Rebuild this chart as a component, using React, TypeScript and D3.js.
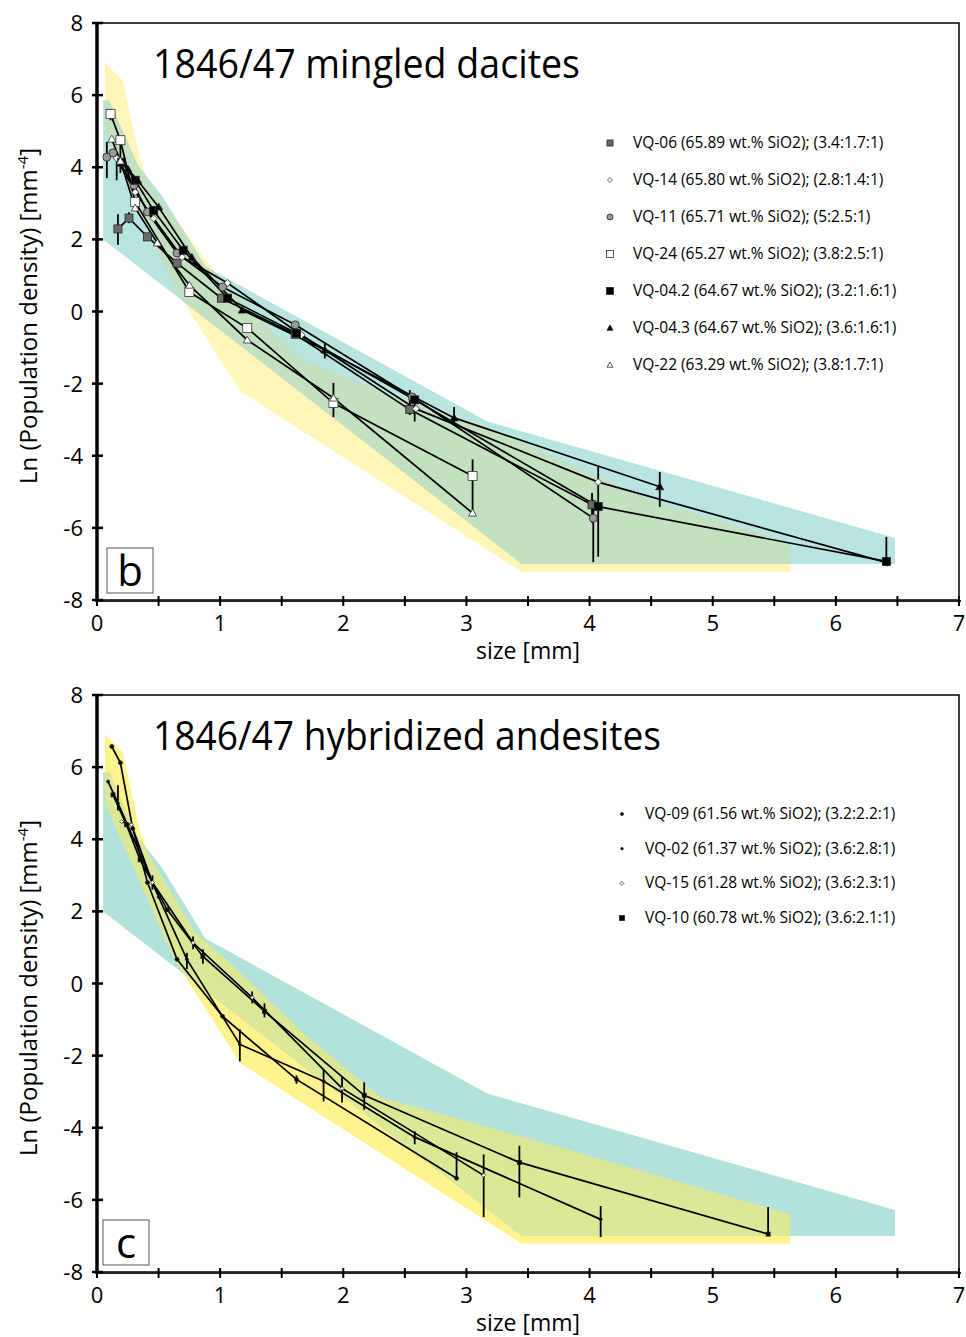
import React from 'react';
import * as d3 from 'd3';

// ---- data (size [mm], ln n, error bar top, error bar bottom) ----
// panel b: 1846/47 mingled dacites
const vq06 = [[0.17, 2.29, 2.7, 1.85], [0.26, 2.59, 2.75, 2.45], [0.41, 2.07], [0.65, 1.34], [1.01, 0.37], [1.61, -0.63], [2.54, -2.72, -2.18, -2.87], [4.02, -5.36, -5.03, -5.86]];
const vq14 = [[0.16, 4.25, 4.4, 3.64], [0.31, 3.31], [0.46, 2.58], [0.69, 1.51], [1.06, 0.79], [1.66, -0.65], [2.59, -2.7], [4.07, -4.73], [6.42, -6.97]];
const vq11 = [[0.08, 4.28, 4.7, 3.7], [0.13, 4.4], [0.3, 3.5], [0.41, 2.76], [0.65, 1.62], [1.02, 0.68], [1.61, -0.37], [2.56, -2.37], [4.03, -5.73, -5.22, -6.95]];
const vq24 = [[0.11, 5.48, 5.6, 5.3], [0.19, 4.75, 4.85, 3.84], [0.31, 3.04], [0.75, 0.54], [1.22, -0.46], [1.92, -2.54, -1.98, -2.93], [3.05, -4.56, -4.1, -5.56]];
const vq042 = [[0.2, 4.14], [0.31, 3.64], [0.46, 2.8], [0.7, 1.7], [1.06, 0.37], [1.62, -0.6], [2.58, -2.45, -2.3, -3.05], [4.07, -5.41, -4.31, -6.8], [6.41, -6.93, -6.25, -6.97]];
const vq043 = [[0.25, 3.95], [0.33, 3.64], [0.5, 2.9], [0.77, 1.5], [1.18, 0.04], [1.85, -1.07, -0.85, -1.3], [2.9, -2.95, -2.65, -3.15], [4.57, -4.86, -4.45, -5.42]];
const vq22 = [[0.12, 4.78], [0.19, 4.17], [0.31, 2.87], [0.49, 1.9], [0.75, 0.73], [1.22, -0.79], [1.92, -2.4], [3.05, -5.59]];

// panel c: 1846/47 hybridized andesites
const vq09 = [[0.12, 6.57], [0.19, 6.12], [0.29, 4.3], [0.41, 2.8], [0.65, 0.67], [1.02, -0.91], [1.62, -2.66, -2.55, -2.78], [2.92, -5.4, -4.68, -5.43]];
const vq02 = [[0.09, 5.6], [0.17, 5.0, 5.5, 4.8], [0.3, 4.0], [0.5, 2.4], [0.73, 0.67, 0.85, 0.4], [1.16, -1.69, -1.27, -2.16], [1.84, -2.71, -2.38, -3.27], [2.58, -4.26, -4.1, -4.46], [4.09, -6.54, -6.17, -7.03]];
const vq15 = [[0.2, 4.49], [0.28, 4.4], [0.45, 2.8, 3.0, 2.6], [0.78, 1.13, 1.3, 0.95], [1.26, -0.39, -0.22, -0.55], [1.99, -2.91, -2.58, -3.3], [3.14, -5.32, -4.74, -6.48]];
const vq10 = [[0.13, 5.23], [0.24, 4.4], [0.35, 3.43], [0.57, 2.05], [0.86, 0.75, 0.95, 0.55], [1.36, -0.77, -0.55, -0.94], [2.17, -3.1, -2.74, -3.5], [3.43, -4.96, -4.5, -5.93], [5.45, -6.95, -6.2, -7.0]];

// shaded fields
const dacField = [[0.05, 5.85], [0.1, 5.85], [0.33, 4.06], [0.53, 3.2], [0.88, 1.25], [3.17, -3.05], [6.48, -6.28], [6.48, -7.0], [3.45, -7.0], [0.05, 2.0]];
const andFieldB = [[0.065, 6.9], [0.21, 6.4], [0.35, 4.2], [0.43, 3.5], [1.0, 0.9], [1.65, -1.3], [2.48, -2.45], [3.17, -3.2], [4.49, -5.23], [5.63, -6.4], [5.63, -7.22], [3.45, -7.22], [1.16, -2.2], [0.63, 0.65], [0.065, 5.0]];
const andFieldC = [[0.065, 6.9], [0.21, 6.4], [0.35, 4.2], [0.43, 3.5], [0.8, 1.4], [1.12, 0.45], [1.65, -1.3], [2.3, -3.15], [4.08, -4.86], [5.63, -6.4], [5.63, -7.22], [3.45, -7.22], [1.16, -2.2], [0.63, 0.65], [0.065, 5.0]];

const xTicks = d3.range(0, 7.01, 0.5);
const yTicks = d3.range(-8, 8.01, 2);

const dacLegend = [
  { name: 'VQ-06 (65.89 wt.% SiO2); (3.4:1.7:1)', pts: vq06, shape: 'square', fill: '#6b6b6b', size: 8 },
  { name: 'VQ-14 (65.80 wt.% SiO2); (2.8:1.4:1)', pts: vq14, shape: 'diamond', fill: '#fff', size: 7 },
  { name: 'VQ-11 (65.71 wt.% SiO2); (5:2.5:1)', pts: vq11, shape: 'circle', fill: '#9a9a9a', size: 8 },
  { name: 'VQ-24 (65.27 wt.% SiO2); (3.8:2.5:1)', pts: vq24, shape: 'square', fill: '#fff', size: 9 },
  { name: 'VQ-04.2 (64.67 wt.% SiO2); (3.2:1.6:1)', pts: vq042, shape: 'square', fill: '#000', size: 8 },
  { name: 'VQ-04.3 (64.67 wt.% SiO2); (3.6:1.6:1)', pts: vq043, shape: 'triangle', fill: '#000', size: 8 },
  { name: 'VQ-22 (63.29 wt.% SiO2); (3.8:1.7:1)', pts: vq22, shape: 'triangle', fill: '#fff', size: 8 },
];

const andLegend = [
  { name: 'VQ-09 (61.56 wt.% SiO2); (3.2:2.2:1)', pts: vq09, shape: 'circle', fill: '#000', size: 4 },
  { name: 'VQ-02 (61.37 wt.% SiO2); (3.6:2.8:1)', pts: vq02, shape: 'circle', fill: '#000', size: 3 },
  { name: 'VQ-15 (61.28 wt.% SiO2); (3.6:2.3:1)', pts: vq15, shape: 'diamond', fill: '#fff', size: 4 },
  { name: 'VQ-10 (60.78 wt.% SiO2); (3.6:2.1:1)', pts: vq10, shape: 'square', fill: '#000', size: 4 },
];

const FONT = 'Open Sans, Noto Sans, sans-serif';

function Marker({ shape, fill, size, cx, cy }) {
  const s = size / 2;
  const stroke = fill === '#fff' ? '#333' : '#222';
  const sw = 0.8;
  if (shape === 'square') return <rect x={cx - s} y={cy - s} width={size} height={size} fill={fill} stroke={stroke} strokeWidth={sw} />;
  if (shape === 'circle') return <circle cx={cx} cy={cy} r={s} fill={fill} stroke={stroke} strokeWidth={sw} />;
  if (shape === 'diamond') return <path d={`M${cx},${cy - s}L${cx + s},${cy}L${cx},${cy + s}L${cx - s},${cy}Z`} fill={fill} stroke={stroke} strokeWidth={sw} />;
  return <path d={`M${cx},${cy - s}L${cx + s},${cy + s * 0.75}L${cx - s},${cy + s * 0.75}Z`} fill={fill} stroke={stroke} strokeWidth={sw} />;
}

function Panel({ id, top, title, titleLen, letter, boxX, legend, legendX, legendY, legendStep, andField, cyanColor, yellowColor, overlapColor, msLegend }) {
  const bottom = top + 577;
  const x = d3.scaleLinear().domain([0, 7]).range([97, 959]);
  const y = d3.scaleLinear().domain([-8, 8]).range([bottom, top]);
  const line = d3.line<number[]>().x(d => x(d[0])).y(d => y(d[1]));
  const poly = (p: number[][]) => line(p) + 'Z';

  return (
    <g>
      <defs>
        <clipPath id={`clip-${id}`}><path d={poly(dacField)} /></clipPath>
      </defs>
      <path d={poly(andField)} fill={yellowColor} />
      <path d={poly(dacField)} fill={cyanColor} />
      <path d={poly(andField)} fill={overlapColor} clipPath={`url(#clip-${id})`} />

      {legend.map((s, i) => (
        <g key={'l' + i}>
          <path d={line(s.pts)} fill="none" stroke="#000" strokeWidth={1.7} />
          {s.pts.filter(p => p.length > 2).map((p, j) => (
            <line key={j} x1={x(p[0])} x2={x(p[0])} y1={y(p[2])} y2={y(p[3])} stroke="#000" strokeWidth={1.8} />
          ))}
        </g>
      ))}
      {legend.map((s, i) => (
        <g key={'m' + i}>
          {s.pts.map((p, j) => <Marker key={j} shape={s.shape} fill={s.fill} size={s.size} cx={x(p[0])} cy={y(p[1])} />)}
        </g>
      ))}

      {/* frame and axes */}
      <rect x={97} y={top} width={862} height={577} fill="none" stroke="#000" strokeWidth={1.5} />
      <line x1={97} x2={97} y1={top} y2={bottom + 2} stroke="#000" strokeWidth={3.5} />
      <line x1={97} x2={961} y1={bottom + 1} y2={bottom + 1} stroke="#222" strokeWidth={2} />
      {xTicks.map(t => (
        <line key={'xt' + t} x1={x(t)} x2={x(t)} y1={bottom - 4} y2={bottom + 6} stroke="#000" strokeWidth={2} />
      ))}
      {xTicks.filter(t => Number.isInteger(t)).map(t => (
        <text key={'xl' + t} x={x(t)} y={bottom + 31} textAnchor="middle" fontFamily={FONT} fontSize={22}>{t}</text>
      ))}
      {yTicks.map(t => (
        <line key={'yt' + t} x1={92} x2={103} y1={y(t)} y2={y(t)} stroke="#000" strokeWidth={2.5} />
      ))}
      {yTicks.map(t => (
        <text key={'yl' + t} x={83} y={y(t) + 8} textAnchor="end" fontFamily={FONT} fontSize={22}>{t}</text>
      ))}
      <text x={528} y={bottom + 59} textAnchor="middle" fontFamily={FONT} fontSize={23}>size [mm]</text>
      <text transform={`translate(37,${top + 293}) rotate(-90)`} textAnchor="middle" fontFamily={FONT} fontSize={24}>
        Ln (Population density) [mm<tspan dy={-9} fontSize={15}>-4</tspan><tspan dy={9}>]</tspan>
      </text>

      <text x={153} y={top + 55} fontFamily={FONT} fontSize={40} textLength={titleLen} lengthAdjust="spacingAndGlyphs">{title}</text>

      <rect x={boxX} y={bottom - 52} width={46} height={45} fill="#fff" stroke="#555" strokeWidth={1} />
      <text x={boxX + 23} y={bottom - 14} textAnchor="middle" fontFamily={FONT} fontSize={42}>{letter}</text>

      {legend.map((s, i) => (
        <g key={'lg' + i}>
          <Marker shape={s.shape} fill={s.fill} size={msLegend[i]} cx={legendX} cy={legendY + i * legendStep} />
          <text x={legendX + 23} y={legendY + i * legendStep + 5} fontFamily={FONT} fontSize={15.5}>{s.name}</text>
        </g>
      ))}
    </g>
  );
}

export default function App() {
  return (
    <svg width={966} height={1337} style={{ position: 'absolute', left: 0, top: 0, background: '#fff' }}>
      <Panel id="b" top={23} title="1846/47 mingled dacites" titleLen={427} letter="b" boxX={107}
        legend={dacLegend} legendX={610} legendY={143} legendStep={37} andField={andFieldB}
        cyanColor="#b9e5e1" yellowColor="#fff6b7" overlapColor="#c3e0c1"
        msLegend={[6, 5, 6, 7, 7, 6, 6]} />
      <Panel id="c" top={695} title="1846/47 hybridized andesites" titleLen={508} letter="c" boxX={103}
        legend={andLegend} legendX={622} legendY={814} legendStep={34.7} andField={andFieldC}
        cyanColor="#b3e2da" yellowColor="#fff38e" overlapColor="#dde897"
        msLegend={[3, 2.5, 4, 5]} />
    </svg>
  );
}
